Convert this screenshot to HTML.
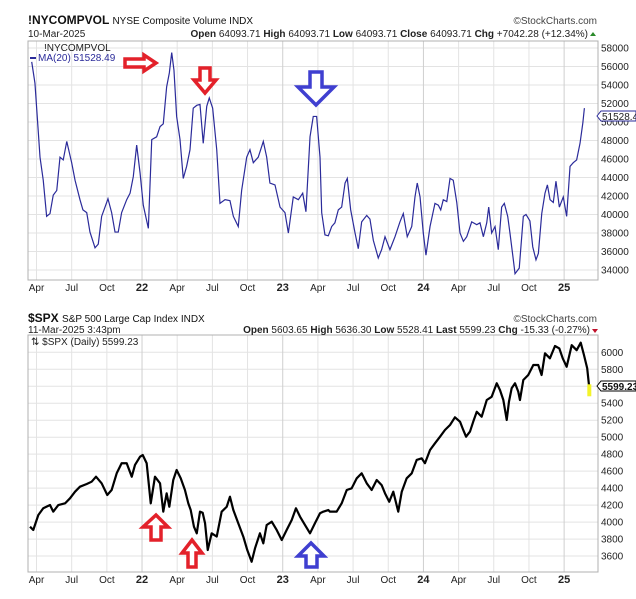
<!DOCTYPE html>
<html><head><meta charset="utf-8">
<style>
body{margin:0;background:#fff;width:636px;height:599px;overflow:hidden;font-family:"Liberation Sans",sans-serif;}
svg{display:block}
</style></head>
<body>
<svg id="c" width="636" height="599" viewBox="0 0 636 599" xmlns="http://www.w3.org/2000/svg" font-family="Liberation Sans, sans-serif">
</svg>
<script>
// ---- Data ----
const volDates=[2021.216,2021.239,2021.275,2021.298,2021.322,2021.346,2021.369,2021.394,2021.417,2021.440,2021.465,2021.500,2021.524,2021.559,2021.580,2021.607,2021.630,2021.666,2021.689,2021.713,2021.737,2021.758,2021.784,2021.808,2021.831,2021.855,2021.891,2021.915,2021.938,2021.962,2021.986,2022.009,2022.045,2022.069,2022.104,2022.128,2022.151,2022.175,2022.194,2022.211,2022.227,2022.246,2022.270,2022.293,2022.317,2022.341,2022.364,2022.389,2022.412,2022.435,2022.460,2022.478,2022.502,2022.531,2022.554,2022.590,2022.625,2022.649,2022.684,2022.708,2022.744,2022.767,2022.791,2022.826,2022.862,2022.886,2022.909,2022.945,2022.981,2023.016,2023.040,2023.075,2023.111,2023.142,2023.165,2023.194,2023.217,2023.241,2023.265,2023.277,2023.300,2023.324,2023.348,2023.371,2023.395,2023.419,2023.443,2023.459,2023.483,2023.514,2023.537,2023.561,2023.597,2023.620,2023.644,2023.679,2023.703,2023.727,2023.762,2023.798,2023.833,2023.857,2023.885,2023.917,2023.940,2023.956,2023.976,2023.999,2024.018,2024.047,2024.082,2024.106,2024.123,2024.141,2024.166,2024.189,2024.212,2024.237,2024.260,2024.284,2024.308,2024.343,2024.379,2024.402,2024.426,2024.450,2024.464,2024.485,2024.509,2024.532,2024.556,2024.575,2024.599,2024.615,2024.639,2024.651,2024.681,2024.710,2024.729,2024.757,2024.777,2024.800,2024.817,2024.841,2024.864,2024.881,2024.900,2024.923,2024.942,2024.966,2024.994,2025.018,2025.042,2025.065,2025.089,2025.113,2025.133,2025.144];
const volValues=[56500,54200,46200,43700,39800,40100,42100,42600,46200,45900,47900,45600,43700,41600,40500,40200,38100,36400,36800,39800,40800,41700,40200,38100,38100,40200,41600,42300,44100,47500,44500,41000,38500,48100,48400,49500,49800,53800,55300,57500,55600,50600,48100,43900,45200,47000,51500,51800,51900,47700,51700,52600,51500,47000,41200,41600,41500,39800,38700,42600,46200,47000,45600,46200,47900,46200,43400,43200,40800,40200,38000,41900,41600,42300,40300,48400,50600,50600,46200,40200,37800,37700,38700,39100,40500,40800,43400,43900,40500,38000,36300,39200,39900,39500,37200,35300,36200,37600,36200,37600,39200,40100,37600,38700,41900,43400,41900,38000,35600,38700,41200,41000,40500,41600,41400,43900,43700,41300,38000,37100,37600,39200,38900,39100,37600,39100,40800,38000,38700,36200,40800,41200,39800,38000,35100,33600,34200,39800,40000,39300,36500,35100,35800,40100,42300,43200,41600,41300,43600,40800,41900,39800,45200,45600,45900,47700,49900,51500];
const spxDates=[2021.204,2021.227,2021.263,2021.298,2021.346,2021.369,2021.405,2021.453,2021.488,2021.524,2021.559,2021.607,2021.642,2021.673,2021.713,2021.753,2021.784,2021.820,2021.855,2021.891,2021.927,2021.950,2021.986,2022.005,2022.033,2022.062,2022.092,2022.128,2022.151,2022.175,2022.194,2022.222,2022.246,2022.275,2022.305,2022.329,2022.346,2022.369,2022.389,2022.412,2022.431,2022.448,2022.467,2022.495,2022.531,2022.566,2022.602,2022.625,2022.649,2022.684,2022.720,2022.748,2022.779,2022.803,2022.838,2022.862,2022.886,2022.922,2022.957,2022.993,2023.028,2023.064,2023.094,2023.123,2023.158,2023.194,2023.229,2023.265,2023.288,2023.324,2023.336,2023.383,2023.419,2023.455,2023.490,2023.526,2023.561,2023.597,2023.632,2023.668,2023.703,2023.727,2023.757,2023.786,2023.821,2023.846,2023.881,2023.917,2023.952,2023.988,2024.011,2024.047,2024.082,2024.118,2024.153,2024.189,2024.224,2024.260,2024.283,2024.303,2024.331,2024.354,2024.379,2024.414,2024.450,2024.485,2024.521,2024.544,2024.568,2024.592,2024.608,2024.627,2024.651,2024.674,2024.686,2024.710,2024.745,2024.781,2024.816,2024.840,2024.864,2024.899,2024.935,2024.966,2024.990,2025.018,2025.054,2025.089,2025.118,2025.141,2025.164,2025.179];
const spxValues=[3946,3907,4084,4163,4201,4123,4201,4221,4280,4358,4417,4449,4476,4535,4457,4319,4378,4575,4693,4693,4535,4673,4770,4790,4693,4221,4535,4457,4123,4339,4181,4496,4614,4516,4378,4221,4142,3946,3868,4123,4110,3986,3671,3868,3830,4123,4181,4299,4142,3986,3828,3671,3533,3691,3868,3750,3966,4005,3907,3789,3907,4025,4163,4064,3966,3868,3986,4104,4123,4142,4123,4123,4221,4378,4398,4516,4575,4457,4378,4496,4436,4339,4240,4358,4123,4358,4516,4575,4732,4751,4693,4849,4928,5006,5085,5144,5234,5183,5085,5006,5066,5183,5300,5241,5438,5476,5635,5556,5438,5203,5419,5576,5635,5537,5438,5674,5733,5850,5850,5733,5988,5929,6074,6045,5929,5830,6084,6025,6113,5968,5812,5576];
const volTicks=[58000,56000,54000,52000,50000,48000,46000,44000,42000,40000,38000,36000,34000];
const spxTicks=[6000,5800,5600,5400,5200,5000,4800,4600,4400,4200,4000,3800,3600];
const monthTicks=[2021.25,2021.5,2021.75,2022,2022.25,2022.5,2022.75,2023,2023.25,2023.5,2023.75,2024,2024.25,2024.5,2024.75,2025];
const monthLabels=["Apr","Jul","Oct","22","Apr","Jul","Oct","23","Apr","Jul","Oct","24","Apr","Jul","Oct","25"];

// ---- Axes ----
const X0=28,X1=598;
const xS=t=>36.5+(t-2021.25)*140.7;
const yVol=v=>270+(34000-v)*0.00925;
const ySpx=v=>352.3+(6000-v)/200*16.98;
const svg=document.getElementById('c');
const NS='http://www.w3.org/2000/svg';
function mk(tag,attrs,txt){const e=document.createElementNS(NS,tag);for(const k in attrs)e.setAttribute(k,attrs[k]);if(txt!==undefined)e.textContent=txt;svg.appendChild(e);return e;}

function panel(top,bot,ticks,yf,prefix){
  ticks.forEach(v=>{
    const l=mk('line',{x1:X0,x2:X1,y1:yf(v),y2:yf(v),stroke:'#e3e3e3','stroke-width':1});
    
    
    const t=mk('text',{x:601,y:yf(v)+3.5,'font-size':10,fill:'#222'},v);
    
    
  });
  monthTicks.forEach((m,i)=>{
    const strong=monthLabels[i].length==2;
    const l=mk('line',{x1:xS(m),x2:xS(m),y1:top,y2:bot,stroke:strong?'#cfcfcf':'#e3e3e3','stroke-width':1});
    
    
    const t=mk('text',{x:xS(m),y:bot+11,'font-size':strong?11:10,'font-weight':strong?'bold':'normal','text-anchor':'middle',fill:'#222'},monthLabels[i]);
    
    
  });
  const b=mk('rect',{x:X0,y:top,width:X1-X0,height:bot-top,fill:'none',stroke:'#b0b0b0','stroke-width':1});
  
  
}
panel(41,280,volTicks,yVol,'volume');
panel(335,572,spxTicks,ySpx,'spx');

// series
const vp=mk('polyline',{points:volDates.map((d,i)=>xS(d)+','+yVol(volValues[i])).join(' '),fill:'none',stroke:'#2b2b9a','stroke-width':1.2});


const sp=mk('polyline',{points:spxDates.map((d,i)=>xS(d)+','+ySpx(spxValues[i])).join(' '),fill:'none',stroke:'#000','stroke-width':2.2,'stroke-linejoin':'round'});


const lastX=xS(spxDates[spxDates.length-1]),lastY=ySpx(spxValues[spxValues.length-1]);
const hl=mk('rect',{x:lastX-2,y:lastY-4,width:4,height:12,fill:'#f3f32a'});


</script>
<svg width="636" height="599" style="position:absolute;left:0;top:0" xmlns="http://www.w3.org/2000/svg" font-family="Liberation Sans, sans-serif">
  <text x="28" y="24" font-size="12" font-weight="bold" fill="#111">!NYCOMPVOL <tspan font-size="10" font-weight="normal">NYSE Composite Volume INDX</tspan></text>
  <text x="597" y="24" font-size="10" fill="#444" text-anchor="end">©StockCharts.com</text>
  <text x="28" y="37" font-size="10" fill="#222">10-Mar-2025</text>
  <text x="588" y="37" font-size="10" fill="#222" text-anchor="end"><tspan font-weight="bold">Open</tspan> 64093.71 <tspan font-weight="bold">High</tspan> 64093.71 <tspan font-weight="bold">Low</tspan> 64093.71 <tspan font-weight="bold">Close</tspan> 64093.71 <tspan font-weight="bold">Chg</tspan> +7042.28 (+12.34%)</text>
  <polygon points="590,36 596,36 593,32" fill="#2a8a2a"/>
  <text x="44" y="51" font-size="10" fill="#222">!NYCOMPVOL</text>
  <line x1="30" y1="58" x2="36" y2="58" stroke="#2b2b9a" stroke-width="2"/>
  <text x="38" y="61" font-size="10" fill="#2b2b9a">MA(20) 51528.49</text>
  <polygon points="597,116 601,111 636,111 636,121 601,121" fill="#fff" stroke="#2b2b9a" stroke-width="1"/>
  <text x="602" y="120" font-size="10" fill="#222">51528.49</text>
  <text x="28" y="322" font-size="12" font-weight="bold" fill="#111">$SPX <tspan font-size="10" font-weight="normal">S&amp;P 500 Large Cap Index INDX</tspan></text>
  <text x="597" y="322" font-size="10" fill="#444" text-anchor="end">©StockCharts.com</text>
  <text x="28" y="333" font-size="10" fill="#222">11-Mar-2025 3:43pm</text>
  <text x="590" y="333" font-size="10" fill="#222" text-anchor="end"><tspan font-weight="bold">Open</tspan> 5603.65 <tspan font-weight="bold">High</tspan> 5636.30 <tspan font-weight="bold">Low</tspan> 5528.41 <tspan font-weight="bold">Last</tspan> 5599.23 <tspan font-weight="bold">Chg</tspan> -15.33 (-0.27%)</text>
  <polygon points="592,329 598,329 595,333" fill="#c0102a"/>
  <text x="31" y="345" font-size="10" fill="#222">⇅ $SPX (Daily) 5599.23</text>
  <polygon points="597,386 601,381 636,381 636,391 601,391" fill="#fff" stroke="#000" stroke-width="1"/>
  <text x="602" y="390" font-size="10" font-weight="bold" fill="#111">5599.23</text>
  <polygon points="125,59 144,59 144,55 156,63 144,71 144,67 125,67" fill="#fff" stroke="#e3212a" stroke-width="3.5"/>
  <polygon points="200,68 210,68 210,80 216,80 205,93 194,80 200,80" fill="#fff" stroke="#e3212a" stroke-width="3.5"/>
  <polygon points="310,72 322,72 322,87 334,87 316,105 298,87 310,87" fill="#fff" stroke="#3f3fd0" stroke-width="3.5"/>
  <polygon points="151,540 161,540 161,527 168,527 156,515 143,527 151,527" fill="#fff" stroke="#e3212a" stroke-width="3.5"/>
  <polygon points="188,567 196,567 196,553 202,553 192,540 182,553 188,553" fill="#fff" stroke="#e3212a" stroke-width="3.5"/>
  <polygon points="306,567 317,567 317,556 324,556 311,543 298,556 306,556" fill="#fff" stroke="#3f3fd0" stroke-width="3.5"/>
</svg>
</body></html>
